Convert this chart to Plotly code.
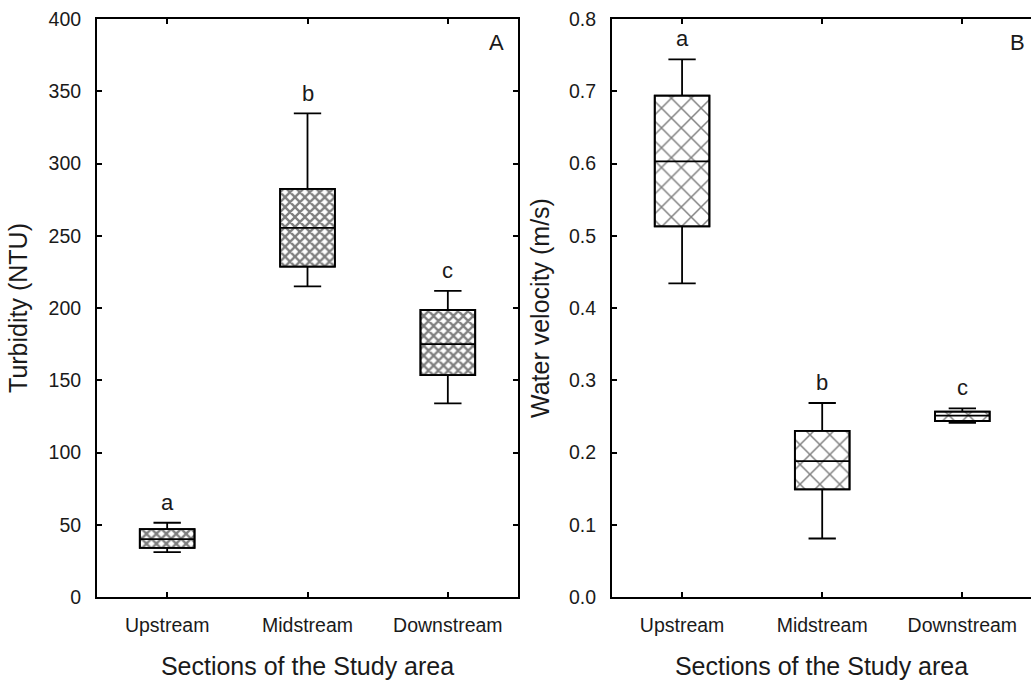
import plotly.graph_objects as go

sections = ["Upstream", "Midstream", "Downstream"]

# Panel A: Turbidity (NTU)
turb_low = [31, 215, 134]
turb_q1 = [34, 228.6, 153.6]
turb_med = [40, 255.5, 175]
turb_q3 = [47, 282.4, 198.6]
turb_high = [51.4, 334.7, 211.8]
turb_letters = ["a", "b", "c"]

# Panel B: Water velocity (m/s)
vel_low = [0.434, 0.081, 0.241]
vel_q1 = [0.513, 0.149, 0.2436]
vel_med = [0.603, 0.188, 0.251]
vel_q3 = [0.694, 0.230, 0.2565]
vel_high = [0.744, 0.2685, 0.261]
vel_letters = ["a", "b", "c"]

W, H = 1031, 682
FONT = "Liberation Sans, Arial, sans-serif"
TXT = "#1a1a1a"
BW = 0.39

fig = go.Figure()

def add_panel(xa, ya, low, q1, med, q3, high, pattern):
    fig.add_trace(go.Bar(
        x=sections, y=[b - a for a, b in zip(q1, q3)], base=q1, width=BW,
        marker=dict(color="white", line=dict(color="black", width=1.8),
                    pattern=pattern),
        xaxis=xa, yaxis=ya, showlegend=False, hoverinfo="skip"))
    fig.add_trace(go.Box(
        x=sections, q1=q1, median=med, q3=q3, lowerfence=low, upperfence=high,
        fillcolor="rgba(0,0,0,0)", line=dict(color="black", width=1.8),
        width=BW, whiskerwidth=0.5, boxpoints=False,
        xaxis=xa, yaxis=ya, showlegend=False))

add_panel("x", "y", turb_low, turb_q1, turb_med, turb_q3, turb_high,
          dict(shape="x", fgcolor="black", bgcolor="white", size=7, solidity=0.55))
add_panel("x2", "y2", vel_low, vel_q1, vel_med, vel_q3, vel_high,
          dict(shape="x", fgcolor="black", bgcolor="white", size=14, solidity=0.2))

LF = dict(size=22, color=TXT, family=FONT)
annotations = []
for s, h, l in zip(sections, turb_high, turb_letters):
    annotations.append(dict(x=s, y=h, xref="x", yref="y", text=l, showarrow=False,
                            yanchor="middle", yshift=20, font=LF))
for s, h, l in zip(sections, vel_high, vel_letters):
    annotations.append(dict(x=s, y=h, xref="x2", yref="y2", text=l, showarrow=False,
                            yanchor="middle", yshift=21, font=LF))
annotations.append(dict(x=0.95, y=0.96, xref="x domain", yref="y domain", text="A",
                        xanchor="center", yanchor="middle", showarrow=False, font=LF))
annotations.append(dict(x=0.967, y=0.96, xref="x2 domain", yref="y2 domain", text="B",
                        xanchor="center", yanchor="middle", showarrow=False, font=LF))

axis_common = dict(showline=True, linecolor="black", linewidth=2, mirror="ticks",
                   ticks="inside", ticklen=5, tickwidth=1.5, tickcolor="black",
                   showgrid=False, zeroline=False,
                   tickfont=dict(size=19.5, color=TXT, family=FONT))

TF = dict(size=25, color=TXT, family=FONT)
xcommon = dict(axis_common, type="category", ticklabelstandoff=10,
               title=dict(text="Sections of the Study area", standoff=22, font=TF))

fig.update_layout(
    width=W, height=H,
    margin=dict(l=0, r=0, t=19, b=85),
    paper_bgcolor="white", plot_bgcolor="white",
    barmode="overlay",
    font=dict(family=FONT, color=TXT),
    xaxis=dict(xcommon, domain=[97 / W, 518 / W], range=[-0.5, 2.5], anchor="y"),
    xaxis2=dict(xcommon, domain=[612 / W, 1.0], range=[-0.5, 2.49], anchor="y2"),
    yaxis=dict(axis_common, range=[0, 400], dtick=50, anchor="x", ticklabelstandoff=10,
               title=dict(text="Turbidity (NTU)", standoff=14, font=TF)),
    yaxis2=dict(axis_common, range=[0, 0.8], dtick=0.1, tickformat=".1f", anchor="x2",
                ticklabelstandoff=10, mirror=False,
                title=dict(text="Water velocity (m/s)", standoff=12, font=TF)),
    annotations=annotations,
)

fig.write_html("out.html", config={"displayModeBar": False},
               post_script="document.body.style.margin='0';document.body.style.overflow='hidden';")
